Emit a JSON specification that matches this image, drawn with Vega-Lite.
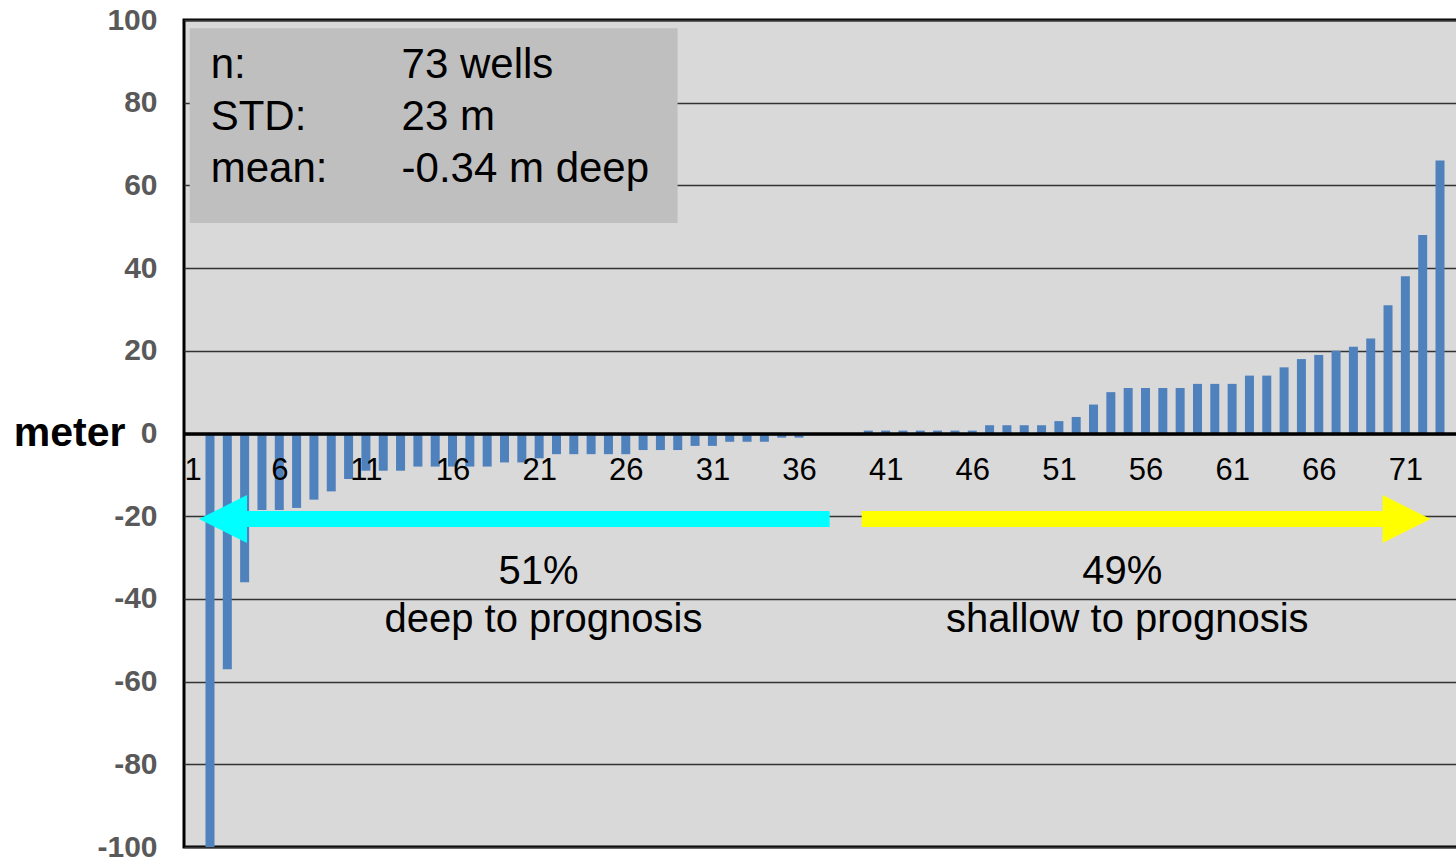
{
  "$schema": "https://vega.github.io/schema/vega-lite/v6.json",
  "width": 1282,
  "height": 827,
  "autosize": {"type": "none"},
  "padding": {"left": 184, "top": 20, "right": -10, "bottom": 12},
  "background": "white",
  "config": {
    "view": {"fill": "#d9d9d9", "stroke": "#000000", "strokeWidth": 3},
    "font": "Liberation Sans",
    "axis": {"labelFont": "Liberation Sans", "titleFont": "Liberation Sans"},
    "scale": {"continuousPadding": 0}
  },
  "datasets": {
    "wells": [
      {"cat": 1, "dev": 0}, {"cat": 2, "dev": -100}, {"cat": 3, "dev": -57}, {"cat": 4, "dev": -36},
      {"cat": 5, "dev": -18.5}, {"cat": 6, "dev": -18.5}, {"cat": 7, "dev": -18}, {"cat": 8, "dev": -16},
      {"cat": 9, "dev": -14}, {"cat": 10, "dev": -11}, {"cat": 11, "dev": -9}, {"cat": 12, "dev": -9},
      {"cat": 13, "dev": -9}, {"cat": 14, "dev": -8}, {"cat": 15, "dev": -8}, {"cat": 16, "dev": -8},
      {"cat": 17, "dev": -8}, {"cat": 18, "dev": -8}, {"cat": 19, "dev": -7}, {"cat": 20, "dev": -7},
      {"cat": 21, "dev": -6}, {"cat": 22, "dev": -5}, {"cat": 23, "dev": -5}, {"cat": 24, "dev": -5},
      {"cat": 25, "dev": -5}, {"cat": 26, "dev": -5}, {"cat": 27, "dev": -4}, {"cat": 28, "dev": -4},
      {"cat": 29, "dev": -4}, {"cat": 30, "dev": -3}, {"cat": 31, "dev": -3}, {"cat": 32, "dev": -2},
      {"cat": 33, "dev": -2}, {"cat": 34, "dev": -2}, {"cat": 35, "dev": -1}, {"cat": 36, "dev": -1},
      {"cat": 37, "dev": 0}, {"cat": 38, "dev": 0}, {"cat": 39, "dev": 0}, {"cat": 40, "dev": 0.7},
      {"cat": 41, "dev": 0.7}, {"cat": 42, "dev": 0.7}, {"cat": 43, "dev": 0.7}, {"cat": 44, "dev": 0.7},
      {"cat": 45, "dev": 0.7}, {"cat": 46, "dev": 0.7}, {"cat": 47, "dev": 2}, {"cat": 48, "dev": 2},
      {"cat": 49, "dev": 2}, {"cat": 50, "dev": 2}, {"cat": 51, "dev": 3}, {"cat": 52, "dev": 4},
      {"cat": 53, "dev": 7}, {"cat": 54, "dev": 10}, {"cat": 55, "dev": 11}, {"cat": 56, "dev": 11},
      {"cat": 57, "dev": 11}, {"cat": 58, "dev": 11}, {"cat": 59, "dev": 12}, {"cat": 60, "dev": 12},
      {"cat": 61, "dev": 12}, {"cat": 62, "dev": 14}, {"cat": 63, "dev": 14}, {"cat": 64, "dev": 16},
      {"cat": 65, "dev": 18}, {"cat": 66, "dev": 19}, {"cat": 67, "dev": 20}, {"cat": 68, "dev": 21},
      {"cat": 69, "dev": 23}, {"cat": 70, "dev": 31}, {"cat": 71, "dev": 38}, {"cat": 72, "dev": 48},
      {"cat": 73, "dev": 66}
    ],
    "box": [{"x1": 0.83, "x2": 28.99, "y1": 98, "y2": 50.9}],
    "stats": [
      {"x": 2.04, "y": 89.1, "label": "n:"},
      {"x": 13.06, "y": 89.1, "label": "73 wells"},
      {"x": 2.04, "y": 76.5, "label": "STD:"},
      {"x": 13.06, "y": 76.5, "label": "23 m"},
      {"x": 2.04, "y": 63.9, "label": "mean:"},
      {"x": 13.06, "y": 63.9, "label": "-0.34 m deep"}
    ],
    "arrows": [
      {"side": "deep", "from": 37.77, "to": 2.75, "y": -20.7},
      {"side": "shallow", "from": 39.62, "to": 71.07, "y": -20.7}
    ],
    "notes": [
      {"x": 20.97, "y": -33.5, "label": "51%"},
      {"x": 21.25, "y": -45.2, "label": "deep to prognosis"},
      {"x": 54.66, "y": -33.5, "label": "49%"},
      {"x": 54.95, "y": -45.2, "label": "shallow to prognosis"}
    ]
  },
  "layer": [
    {
      "data": {"name": "wells"},
      "mark": {"type": "bar", "color": "#4f81bd", "size": 9, "clip": true},
      "encoding": {
        "x": {
          "field": "cat", "type": "quantitative",
          "scale": {"domain": [0.5, 74.5], "nice": false, "zero": false, "padding": 0},
          "axis": {
            "orient": "bottom", "offset": -413.5, "values": [1, 6, 11, 16, 21, 26, 31, 36, 41, 46, 51, 56, 61, 66, 71],
            "title": null, "grid": false, "ticks": false, "tickSize": 0,
            "domain": true, "domainColor": "#000000", "domainWidth": 3.5,
            "labelFontSize": 31, "labelColor": "#000000", "labelBaseline": "middle", "labelPadding": 37,
            "labelFlush": false, "labelOverlap": false, "zindex": 1
          }
        },
        "y": {
          "field": "dev", "type": "quantitative",
          "scale": {"domain": [-100, 100], "nice": false, "padding": 0},
          "axis": {
            "values": [-100, -80, -60, -40, -20, 0, 20, 40, 60, 80, 100],
            "labelExpr": "'' + datum.value",
            "grid": true, "gridColor": "#333333", "gridWidth": 1.5,
            "domain": false, "ticks": false, "tickSize": 0,
            "labelFontSize": 30, "labelFontWeight": "bold", "labelColor": "#595959",
            "labelPadding": 27, "labelBaseline": "middle", "labelFlush": false, "labelOverlap": false,
            "title": "meter", "titleFontSize": 41, "titleFontWeight": "bold", "titleColor": "#000000",
            "titleAngle": 0, "titleAlign": "right", "titleBaseline": "middle", "titleX": -59, "titleY": 413
          }
        }
      }
    },
    {
      "data": {"name": "box"},
      "mark": {"type": "rect", "color": "#bfbfbf"},
      "encoding": {
        "x": {"field": "x1", "type": "quantitative"},
        "x2": {"field": "x2"},
        "y": {"field": "y1", "type": "quantitative"},
        "y2": {"field": "y2"}
      }
    },
    {
      "data": {"name": "stats"},
      "mark": {"type": "text", "align": "left", "baseline": "middle", "fontSize": 42, "color": "#000000", "font": "Liberation Sans"},
      "encoding": {
        "x": {"field": "x", "type": "quantitative"},
        "y": {"field": "y", "type": "quantitative"},
        "text": {"field": "label"}
      }
    },
    {
      "data": {"name": "arrows"},
      "mark": {"type": "rule", "strokeWidth": 16, "strokeCap": "butt"},
      "encoding": {
        "x": {"field": "from", "type": "quantitative"},
        "x2": {"field": "to"},
        "y": {"field": "y", "type": "quantitative"},
        "color": {"field": "side", "type": "nominal", "scale": {"domain": ["deep", "shallow"], "range": ["#00ffff", "#ffff00"]}, "legend": null}
      }
    },
    {
      "data": {"name": "arrows"},
      "transform": [{"filter": "datum.side === 'deep'"}],
      "mark": {"type": "point", "shape": "M-1,0L1,-1L1,1Z", "size": 2304, "filled": true, "opacity": 1, "color": "#00ffff"},
      "encoding": {
        "x": {"field": "to", "type": "quantitative"},
        "y": {"field": "y", "type": "quantitative"}
      }
    },
    {
      "data": {"name": "arrows"},
      "transform": [{"filter": "datum.side === 'shallow'"}],
      "mark": {"type": "point", "shape": "M1,0L-1,-1L-1,1Z", "size": 2304, "filled": true, "opacity": 1, "color": "#ffff00"},
      "encoding": {
        "x": {"field": "to", "type": "quantitative"},
        "y": {"field": "y", "type": "quantitative"}
      }
    },
    {
      "data": {"name": "notes"},
      "mark": {"type": "text", "align": "center", "baseline": "middle", "fontSize": 40, "color": "#000000", "font": "Liberation Sans"},
      "encoding": {
        "x": {"field": "x", "type": "quantitative"},
        "y": {"field": "y", "type": "quantitative"},
        "text": {"field": "label"}
      }
    }
  ]
}
